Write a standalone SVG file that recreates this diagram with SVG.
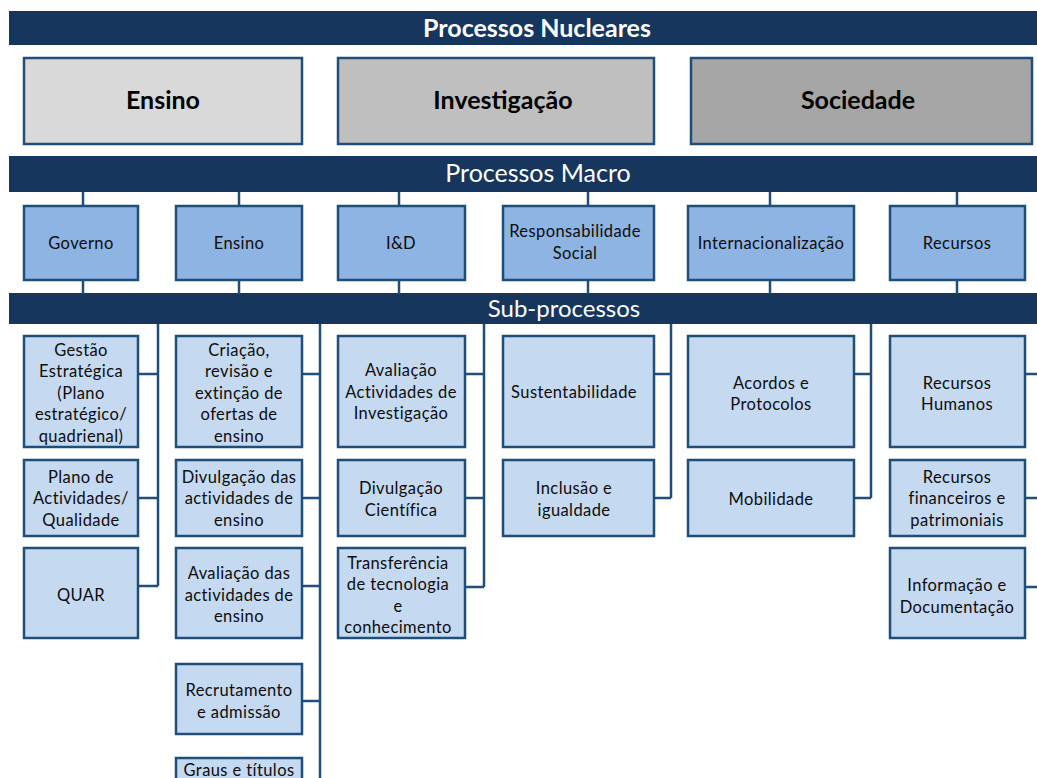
<svg xmlns="http://www.w3.org/2000/svg" width="1037" height="778" viewBox="0 0 1037 778">
<style>
.bar{fill:#17365D}
.bt{font-family:Lato,"Liberation Sans",sans-serif;fill:#FFFFFF;text-anchor:middle}
.nuc{stroke:#1F4E79;stroke-width:2.5}
.nt{font-family:Lato,"Liberation Sans",sans-serif;font-weight:bold;font-size:25px;fill:#000000;text-anchor:middle}
.mac{fill:#8DB4E2;stroke:#1F4E79;stroke-width:2.5}
.sub{fill:#C5D9F1;stroke:#1F4E79;stroke-width:2.5}
.t{font-family:Lato,"Liberation Sans",sans-serif;font-size:16.5px;fill:#0D0D0D;text-anchor:middle;letter-spacing:0.4px}
.c{fill:none;stroke:#1F4E79;stroke-width:2.5}
</style>
<rect width="1037" height="778" fill="#FFFFFF"/>
<g id="bars">
<rect class="bar" x="9" y="11" width="1028" height="34"/>
<text class="bt" x="537" y="37" font-size="25" font-weight="bold">Processos Nucleares</text>
<rect class="bar" x="9" y="156" width="1028" height="36"/>
<text class="bt" x="538" y="182" font-size="25">Processos Macro</text>
<rect class="bar" x="9" y="293" width="1028" height="31"/>
<text class="bt" x="564" y="317" font-size="24">Sub-processos</text>
</g>
<g id="connectors">
<path class="c" d="M83 192V206M239 192V206M399 192V206M588 192V206M770 192V206M957 192V206"/>
<path class="c" d="M83 280V294M239 280V294M399 280V294M588 280V294M770 280V294M957 280V294"/>
<path class="c" d="M158 324V586M138 374H158M138 498H158M138 586H158"/>
<path class="c" d="M320 324V778M302 374H320M302 498H320M302 586H320M302 701H320"/>
<path class="c" d="M484 324V587M465 374H484M465 498H484M465 587H484"/>
<path class="c" d="M671 324V498M654 374H671M654 498H671"/>
<path class="c" d="M871 324V498M854 374H871M854 498H871"/>
<path class="c" d="M1025 374H1037M1025 498H1037M1025 587H1037"/>
</g>
<g id="n-ensino-nuc"><rect class="nuc" x="24" y="58" width="278" height="86" fill="#D9D9D9"/><text class="nt" x="163" y="109">Ensino</text></g>
<g id="n-investigacao"><rect class="nuc" x="338" y="58" width="316" height="86" fill="#BFBFBF"/><text class="nt" x="503" y="109">Investigação</text></g>
<g id="n-sociedade"><rect class="nuc" x="691" y="58" width="341" height="86" fill="#A6A6A6"/><text class="nt" x="858" y="109">Sociedade</text></g>

<g id="m-governo"><rect class="mac" x="24" y="206" width="114" height="74"/><text class="t" x="81" y="249">Governo</text></g>
<g id="m-ensino"><rect class="mac" x="176" y="206" width="126" height="74"/><text class="t" x="239" y="249">Ensino</text></g>
<g id="m-id"><rect class="mac" x="338" y="206" width="127" height="74"/><text class="t" x="401" y="249">I&amp;D</text></g>
<g id="m-resp"><rect class="mac" x="503" y="206" width="151" height="74"/><text class="t" x="575" y="237">Responsabilidade</text><text class="t" x="575" y="259">Social</text></g>
<g id="m-intern"><rect class="mac" x="688" y="206" width="166" height="74"/><text class="t" x="771" y="249">Internacionalização</text></g>
<g id="m-recursos"><rect class="mac" x="890" y="206" width="135" height="74"/><text class="t" x="957" y="249">Recursos</text></g>

<g id="s-gestao"><rect class="sub" x="24" y="336" width="114" height="111"/>
<text class="t" x="81" y="356">Gestão</text><text class="t" x="81" y="377">Estratégica</text><text class="t" x="81" y="399">(Plano</text><text class="t" x="81" y="420">estratégico/</text><text class="t" x="81" y="442">quadrienal)</text></g>
<g id="s-plano"><rect class="sub" x="24" y="460" width="114" height="76"/>
<text class="t" x="81" y="483">Plano de</text><text class="t" x="81" y="504">Actividades/</text><text class="t" x="81" y="526">Qualidade</text></g>
<g id="s-quar"><rect class="sub" x="24" y="548" width="114" height="90"/><text class="t" x="81" y="601">QUAR</text></g>

<g id="s-criacao"><rect class="sub" x="176" y="336" width="126" height="111"/>
<text class="t" x="239" y="356">Criação,</text><text class="t" x="239" y="377">revisão e</text><text class="t" x="239" y="399">extinção de</text><text class="t" x="239" y="420">ofertas de</text><text class="t" x="239" y="442">ensino</text></g>
<g id="s-divulg"><rect class="sub" x="176" y="460" width="126" height="76"/>
<text class="t" x="239" y="483">Divulgação das</text><text class="t" x="239" y="504">actividades de</text><text class="t" x="239" y="526">ensino</text></g>
<g id="s-aval-ens"><rect class="sub" x="176" y="548" width="126" height="90"/>
<text class="t" x="239" y="579">Avaliação das</text><text class="t" x="239" y="601">actividades de</text><text class="t" x="239" y="622">ensino</text></g>
<g id="s-recrut"><rect class="sub" x="176" y="664" width="126" height="70"/>
<text class="t" x="239" y="696">Recrutamento</text><text class="t" x="239" y="718">e admissão</text></g>
<g id="s-graus"><rect class="sub" x="176" y="758" width="126" height="40"/>
<text class="t" x="239" y="776">Graus e títulos</text></g>

<g id="s-aval-inv"><rect class="sub" x="338" y="336" width="127" height="111"/>
<text class="t" x="401" y="376">Avaliação</text><text class="t" x="401" y="398">Actividades de</text><text class="t" x="401" y="419">Investigação</text></g>
<g id="s-divcient"><rect class="sub" x="338" y="460" width="127" height="76"/>
<text class="t" x="401" y="494">Divulgação</text><text class="t" x="401" y="516">Científica</text></g>
<g id="s-transf"><rect class="sub" x="338" y="548" width="127" height="90"/>
<text class="t" x="398" y="569">Transferência</text><text class="t" x="398" y="590">de tecnologia</text><text class="t" x="398" y="612">e</text><text class="t" x="398" y="633">conhecimento</text></g>

<g id="s-sust"><rect class="sub" x="503" y="336" width="151" height="111"/>
<text class="t" x="574" y="398">Sustentabilidade</text></g>
<g id="s-incl"><rect class="sub" x="503" y="460" width="151" height="76"/>
<text class="t" x="574" y="494">Inclusão e</text><text class="t" x="574" y="516">igualdade</text></g>

<g id="s-acordos"><rect class="sub" x="688" y="336" width="166" height="111"/>
<text class="t" x="771" y="389">Acordos e</text><text class="t" x="771" y="410">Protocolos</text></g>
<g id="s-mob"><rect class="sub" x="688" y="460" width="166" height="76"/>
<text class="t" x="771" y="505">Mobilidade</text></g>

<g id="s-rh"><rect class="sub" x="890" y="336" width="135" height="111"/>
<text class="t" x="957" y="389">Recursos</text><text class="t" x="957" y="410">Humanos</text></g>
<g id="s-rf"><rect class="sub" x="890" y="460" width="135" height="76"/>
<text class="t" x="957" y="483">Recursos</text><text class="t" x="957" y="504">financeiros e</text><text class="t" x="957" y="526">patrimoniais</text></g>
<g id="s-info"><rect class="sub" x="890" y="548" width="135" height="90"/>
<text class="t" x="957" y="591">Informação e</text><text class="t" x="957" y="613">Documentação</text></g>
</svg>
